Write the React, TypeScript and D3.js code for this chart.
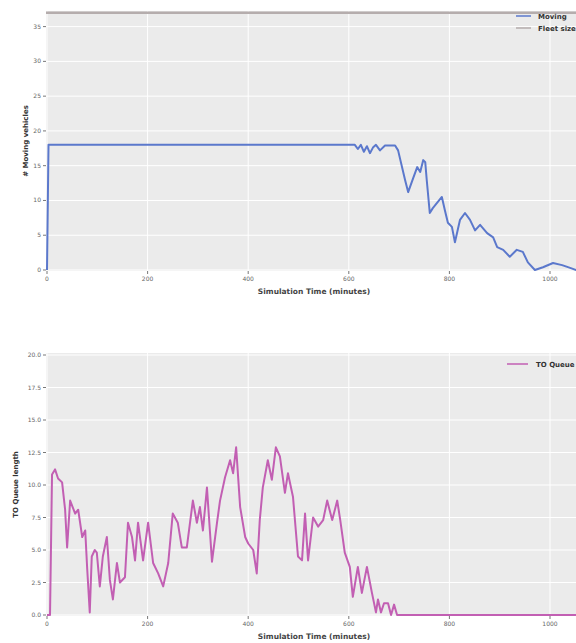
import React from "react";
import * as d3 from "d3";

const movingTime = [0, 3, 612, 618, 624, 630, 636, 642, 648, 654, 662, 672, 692, 698, 712, 718, 728, 736, 742, 748, 752, 755, 761, 767, 777, 785, 791, 797, 805, 811, 821, 831, 841, 851, 861, 875, 887, 895, 907, 920, 934, 946, 956, 970, 986, 1006, 1024, 1040, 1052, 1100];
const movingValue = [0, 18, 18, 17.4, 18, 17, 17.8, 16.8, 17.6, 18, 17.2, 17.9, 17.9, 17.2, 12.9, 11.2, 13.2, 14.8, 14.1, 15.8, 15.5, 12.9, 8.2, 8.9, 9.8, 10.5, 8.6, 6.8, 6.2, 4.0, 7.2, 8.2, 7.2, 5.7, 6.5, 5.3, 4.7, 3.3, 2.9, 1.9, 2.9, 2.6, 1.1, 0, 0.4, 1.0, 0.7, 0.3, 0, 0];
const fleetSize = 37;

const queueTime = [0, 6, 10, 16, 22, 30, 36, 40, 46, 56, 62, 70, 76, 80, 85, 89, 95, 99, 105, 111, 119, 125, 131, 139, 145, 155, 161, 169, 175, 181, 191, 201, 211, 221, 231, 241, 250, 260, 268, 278, 290, 298, 304, 310, 318, 328, 338, 344, 354, 364, 370, 376, 384, 394, 400, 410, 417, 423, 429, 439, 447, 455, 463, 473, 479, 489, 499, 507, 513, 519, 529, 539, 549, 557, 567, 577, 583, 592, 602, 608, 618, 626, 636, 646, 654, 658, 664, 670, 678, 684, 690, 696, 1100];
const queueValue = [0, 0, 10.8, 11.2, 10.5, 10.2, 8.1, 5.2, 8.8, 7.8, 8.1, 6.0, 6.5, 3.5, 0.2, 4.5, 5.0, 4.8, 2.2, 4.5, 6.0, 2.7, 1.2, 4.0, 2.5, 2.9, 7.1, 6.0, 4.2, 7.1, 4.2, 7.1, 4.0, 3.2, 2.2, 4.0, 7.8, 7.1, 5.2, 5.2, 8.8, 7.1, 8.3, 6.5, 9.8, 4.1, 7.1, 8.8, 10.6, 11.9, 10.9, 12.9, 8.3, 6.0, 5.5, 5.0, 3.2, 7.3, 9.8, 11.9, 10.4, 12.9, 12.2, 9.4, 10.9, 9.1, 4.5, 4.2, 7.8, 4.2, 7.5, 6.8, 7.3, 8.8, 7.3, 8.8, 7.3, 4.8, 3.7, 1.4, 3.7, 1.7, 3.7, 1.7, 0.2, 1.2, 0.2, 0.9, 0.9, 0, 0.8, 0, 0];

const xTicks = [0, 200, 400, 600, 800, 1000];
const movingTicks = [0, 5, 10, 15, 20, 25, 30, 35];
const queueTicks = [0, 2.5, 5, 7.5, 10, 12.5, 15, 17.5, 20];

const FONT = "DejaVu Sans, sans-serif";

function Panel({ top, bottom, yDomain, yRange, yTicks, fmt, ylabel, ylabelX, children }: any) {
  const x = d3.scaleLinear().domain([0, 1000]).range([47, 550]);
  const y = d3.scaleLinear().domain(yDomain).range(yRange);
  return (
    <g>
      <rect x={46} y={top} width={560} height={bottom - top} fill="#ebebeb" />
      {xTicks.map((t) => (
        <line key={"gx" + t} x1={x(t)} x2={x(t)} y1={top} y2={bottom} stroke="#fff" strokeWidth={1} />
      ))}
      {yTicks.map((t: number) => (
        <line key={"gy" + t} x1={46} x2={606} y1={y(t)} y2={y(t)} stroke="#fff" strokeWidth={1} />
      ))}
      {children(x, y)}
      {xTicks.map((t) => (
        <g key={"tx" + t}>
          <line x1={x(t)} x2={x(t)} y1={bottom} y2={bottom + 3} stroke="#555" strokeWidth={0.8} />
          <text x={x(t)} y={bottom + 10} fontSize={6} fill="#666" textAnchor="middle" fontFamily={FONT}>{t}</text>
        </g>
      ))}
      {yTicks.map((t: number) => (
        <g key={"ty" + t}>
          <line x1={43} x2={46} y1={y(t)} y2={y(t)} stroke="#555" strokeWidth={0.8} />
          <text x={41} y={y(t) + 2} fontSize={6} fill="#666" textAnchor="end" fontFamily={FONT}>{fmt(t)}</text>
        </g>
      ))}
      <text transform={`translate(${ylabelX},${(top + bottom) / 2}) rotate(-90)`} fontSize={7} fontWeight="bold" fill="#333" textAnchor="middle" fontFamily={FONT}>{ylabel}</text>
      <text x={314} y={bottom + 23} fontSize={7.5} fontWeight="bold" fill="#444" textAnchor="middle" fontFamily={FONT}>Simulation Time (minutes)</text>
    </g>
  );
}

export default function App() {
  const movingData = movingTime.map((t, i) => [t, movingValue[i]] as [number, number]);
  const queueData = queueTime.map((t, i) => [t, queueValue[i]] as [number, number]);
  return (
    <svg width={576} height={643} style={{ position: "absolute", left: 0, top: 0, background: "#fff", overflow: "hidden" }}>
      <Panel top={11} bottom={271} yDomain={[0, 35]} yRange={[270, 26.6]} yTicks={movingTicks} fmt={(d: number) => String(d)} ylabel="# Moving vehicles" ylabelX={28}>
        {(x: any, y: any) => {
          const line = d3.line<[number, number]>().x((d) => x(d[0])).y((d) => y(d[1]));
          return (
            <g>
              <line x1={46} x2={606} y1={y(fleetSize)} y2={y(fleetSize)} stroke="#b5adad" strokeWidth={2.5} />
              <path d={line(movingData) || ""} fill="none" stroke="#5b78cc" strokeWidth={2} strokeLinejoin="round" />
              <line x1={516} x2={531} y1={16} y2={16} stroke="#5b78cc" strokeWidth={1.5} />
              <text x={538} y={18.5} fontSize={7} fontWeight="bold" fill="#333" fontFamily={FONT}>Moving</text>
              <line x1={516} x2={531} y1={28} y2={28} stroke="#b5adad" strokeWidth={1.5} />
              <text x={538} y={30.5} fontSize={7} fontWeight="bold" fill="#333" fontFamily={FONT}>Fleet size</text>
            </g>
          );
        }}
      </Panel>
      <Panel top={353} bottom={616} yDomain={[0, 20]} yRange={[615, 355]} yTicks={queueTicks} fmt={(d: number) => d.toFixed(1)} ylabel="TO Queue length" ylabelX={18}>
        {(x: any, y: any) => {
          const line = d3.line<[number, number]>().x((d) => x(d[0])).y((d) => y(d[1]));
          return (
            <g>
              <path d={line(queueData) || ""} fill="none" stroke="#c25fb3" strokeWidth={2} strokeLinejoin="round" />
              <line x1={507} x2={528} y1={364} y2={364} stroke="#c25fb3" strokeWidth={1.5} />
              <text x={536} y={366.5} fontSize={7} fontWeight="bold" fill="#333" fontFamily={FONT}>TO Queue length</text>
            </g>
          );
        }}
      </Panel>
    </svg>
  );
}
